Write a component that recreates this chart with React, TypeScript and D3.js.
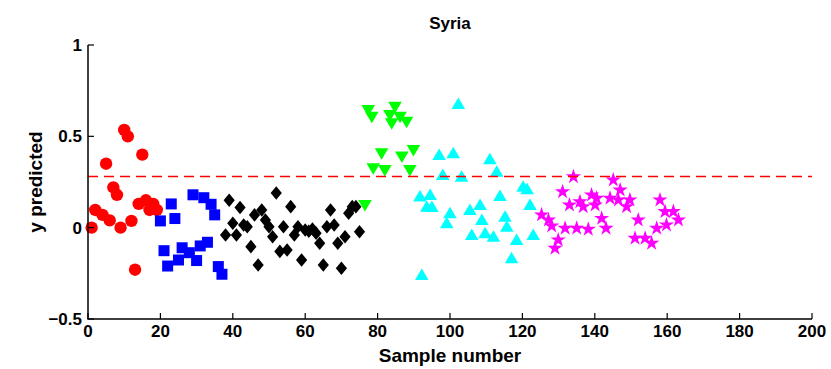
import React from "react";
import * as d3 from "d3";

// Predicted response per sample, grouped by class
const redX = [1, 2, 4, 5, 6, 7, 8, 9, 10, 11, 12, 13, 14, 15, 16, 17, 18, 19];
const redY = [0.0, 0.097, 0.07, 0.35, 0.04, 0.22, 0.18, 0.0, 0.535, 0.5, 0.037, -0.23, 0.13, 0.4, 0.15, 0.097, 0.13, 0.097];

const blueX = [20, 21, 22, 23, 24, 25, 26, 28, 29, 30, 31, 32, 33, 34, 35, 36, 37];
const blueY = [0.037, -0.126, -0.21, 0.13, 0.05, -0.177, -0.11, -0.137, 0.18, -0.18, -0.1, 0.164, -0.08, 0.128, 0.07, -0.213, -0.255];

const blackX = [38, 39, 40, 41, 42, 43, 44, 45, 46, 47, 48, 49, 50, 51, 52, 53, 54, 55, 56, 57, 58, 59, 60, 61, 62, 63, 64, 65, 66, 67, 68, 69, 70, 71, 72, 73, 74, 75];
const blackY = [-0.04, 0.15, 0.024, -0.04, 0.11, 0.015, 0.005, -0.104, 0.07, -0.204, 0.097, 0.042, 0.005, -0.05, 0.19, -0.13, 0.005, -0.122, 0.115, -0.04, 0.005, -0.177, -0.013, -0.02, -0.007, -0.03, -0.085, -0.204, 0.005, 0.097, 0.015, -0.085, -0.222, -0.05, 0.079, 0.115, 0.115, -0.022];

const greenX = [76.5, 77.4, 78.4, 78.8, 81.1, 82, 83.4, 83.9, 84.8, 86.2, 86.7, 88, 88.9, 89.9];
const greenY = [0.124, 0.644, 0.607, 0.325, 0.407, 0.316, 0.617, 0.571, 0.662, 0.607, 0.389, 0.58, 0.316, 0.425];

const cyanX = [91.7, 92.2, 93.6, 94.5, 95, 97, 98, 99.1, 100, 100.9, 102.3, 103.2, 105.5, 106, 108.3, 108.8, 109.7, 111, 112, 112.9, 113.8, 115.2, 115.7, 117, 118.4, 120.2, 121.3, 122.1, 123];
const cyanY = [0.17, -0.259, 0.115, 0.179, 0.113, 0.398, 0.288, 0.024, 0.079, 0.407, 0.677, 0.279, 0.097, -0.04, 0.124, 0.042, -0.03, 0.374, -0.05, 0.306, 0.174, 0.06, 0.005, -0.168, -0.067, 0.224, 0.21, 0.124, -0.04];

const magentaX = [125.3, 127.2, 128.1, 129, 129.9, 131.1, 131.8, 133, 134.1, 135, 135.9, 136.8, 138.2, 139.1, 140.1, 140.5, 141.9, 143.1, 144.2, 145.1, 146.5, 147, 148.8, 149.7, 151.1, 152, 153.9, 155.7, 157.1, 158, 159.4, 159.8, 161.7, 163.1];
const magentaY = [0.07, 0.042, 0.009, -0.113, -0.067, 0.197, -0.003, 0.124, 0.279, -0.003, 0.142, 0.115, -0.009, 0.179, 0.124, 0.161, 0.051, -0.003, 0.161, 0.261, 0.152, 0.206, 0.115, 0.152, -0.058, 0.042, -0.058, -0.085, -0.003, 0.152, 0.088, 0.015, 0.088, 0.042];

const threshold = 0.28;

const xTicks = [0, 20, 40, 60, 80, 100, 120, 140, 160, 180, 200];
const yTicks = [-0.5, 0, 0.5, 1];

const W = 831;
const H = 369;
const left = 88;
const right = 812;
const top = 45;
const bottom = 319;

const x = d3.scaleLinear().domain([0, 200]).range([left, right]);
const y = d3.scaleLinear().domain([-0.5, 1]).range([bottom, top]);

// Marker outlines, each drawn around the origin and translated into place
const circlePath = d3.symbol().type(d3.symbolCircle).size(Math.PI * 6.2 * 6.2)() as string;
const squarePath = "M-5.5,-5.5h11v11h-11Z";
const diamondPath = "M0,-6.8L5.6,0L0,6.8L-5.6,0Z";
const triDownPath = "M-6.8,-5L6.8,-5L0,6.5Z";
const triUpPath = "M-6.8,5L6.8,5L0,-6.5Z";
const starPath = d3.symbol().type(d3.symbolStar).size(72)() as string;

const groups = [
  { xs: redX, ys: redY, color: "#ff0000", d: circlePath },
  { xs: blueX, ys: blueY, color: "#0000ff", d: squarePath },
  { xs: blackX, ys: blackY, color: "#000000", d: diamondPath },
  { xs: greenX, ys: greenY, color: "#00ff00", d: triDownPath },
  { xs: cyanX, ys: cyanY, color: "#00ffff", d: triUpPath },
  { xs: magentaX, ys: magentaY, color: "#ff00ff", d: starPath },
];

const font = "'Liberation Sans', Arial, Helvetica, sans-serif";

export default function App() {
  return (
    <svg
      width={W}
      height={H}
      style={{ position: "absolute", left: 0, top: 0, background: "#fff" }}
      fontFamily={font}
      fontWeight="bold"
    >
      {/* markers */}
      {groups.map((g, gi) =>
        g.xs.map((v, i) => (
          <path
            key={`${gi}-${i}`}
            d={g.d}
            transform={`translate(${x(v)},${y(g.ys[i])})`}
            fill={g.color}
          />
        ))
      )}

      {/* threshold */}
      <line
        x1={left}
        x2={right}
        y1={y(threshold)}
        y2={y(threshold)}
        stroke="#ff0000"
        strokeWidth={1.5}
        strokeDasharray="10,6"
      />

      {/* axes */}
      <path
        d={`M${left},${top}V${bottom}H${right}`}
        fill="none"
        stroke="#000"
        strokeWidth={1.5}
      />
      {xTicks.map((t) => (
        <g key={`xt${t}`}>
          <line x1={x(t)} x2={x(t)} y1={bottom} y2={bottom - 6} stroke="#000" strokeWidth={1.2} />
          <text x={x(t)} y={bottom + 18} textAnchor="middle" fontSize={17}>
            {t}
          </text>
        </g>
      ))}
      {yTicks.map((t) => (
        <g key={`yt${t}`}>
          <line x1={left} x2={left + 6} y1={y(t)} y2={y(t)} stroke="#000" strokeWidth={1.2} />
          <text x={left - 6} y={y(t) + 6} textAnchor="end" fontSize={17}>
            {t < 0 ? `\u2212${Math.abs(t)}` : t}
          </text>
        </g>
      ))}

      <text x={x(100)} y={362} textAnchor="middle" fontSize={19}>
        Sample number
      </text>
      <text
        transform={`translate(42,${(top + bottom) / 2}) rotate(-90)`}
        textAnchor="middle"
        fontSize={19}
      >
        y predicted
      </text>
      <text x={x(100)} y={29} textAnchor="middle" fontSize={17}>
        Syria
      </text>
    </svg>
  );
}
